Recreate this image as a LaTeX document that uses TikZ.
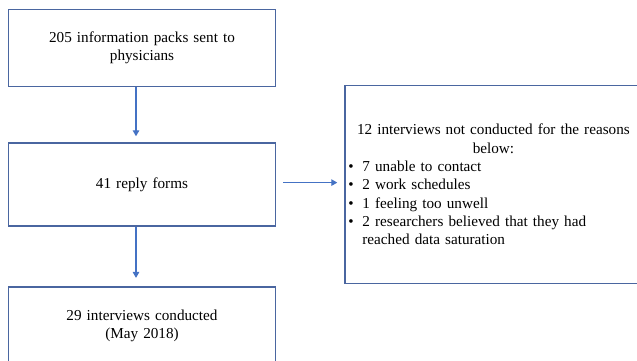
\documentclass[tikz,border=0pt]{standalone}
\usepackage{fontspec}
\setmainfont{Liberation Serif}
\usetikzlibrary{positioning,arrows.meta}
\definecolor{boxline}{HTML}{4A66A0}
\definecolor{arrline}{HTML}{4472C4}
\newcommand{\bul}{\par\noindent\hangindent=14pt\hangafter=1\makebox[14pt][l]{\textbullet}}
\begin{document}
\begin{tikzpicture}[node distance={56pt}, main/.style = {draw=boxline, line width=1.6pt, minimum width=267pt, text width=255pt, align=center, font=\fontsize{15.2}{18.3}\selectfont}, arr/.style = {draw=arrline, line width=1.3pt, -{Triangle[length=6pt,width=6.5pt]}}]
    \useasboundingbox (0,0) rectangle (637pt,-360pt);
    \clip (0,0) rectangle (637pt,-360pt);
    \node[main, minimum height=77pt] (1) at (142pt,-48pt) {205 information packs sent to\\physicians};
    \node[main, minimum height=83pt] (2)[below=55pt of 1] {41 reply forms};
    \node[main, minimum height=78pt] (3)[below=59pt of 2] {29 interviews conducted\\(May 2018)};
    \node[main, minimum width=296pt, minimum height=198pt, text width=290pt, align=left] (4)[right=68pt of 2] {{\centering 12 interviews not conducted for the reasons\\below:\par}\raggedright
        \bul 7 unable to contact
        \bul 2 work schedules
        \bul 1 feeling too unwell
        \bul 2 researchers believed that they had\newline reached data saturation\par};
    \draw[arr, shorten >=6pt] ([xshift=-6pt]1.south) -- ([xshift=-6pt]2.north);
    \draw[arr, shorten >=8pt] ([xshift=-6pt]2.south) -- ([xshift=-6pt]3.north);
    \draw[arr, shorten <=7pt, shorten >=7pt] ([yshift=2pt]2.east) -- ([yshift=2pt]2.east -| 4.west);
\end{tikzpicture}
\end{document}
